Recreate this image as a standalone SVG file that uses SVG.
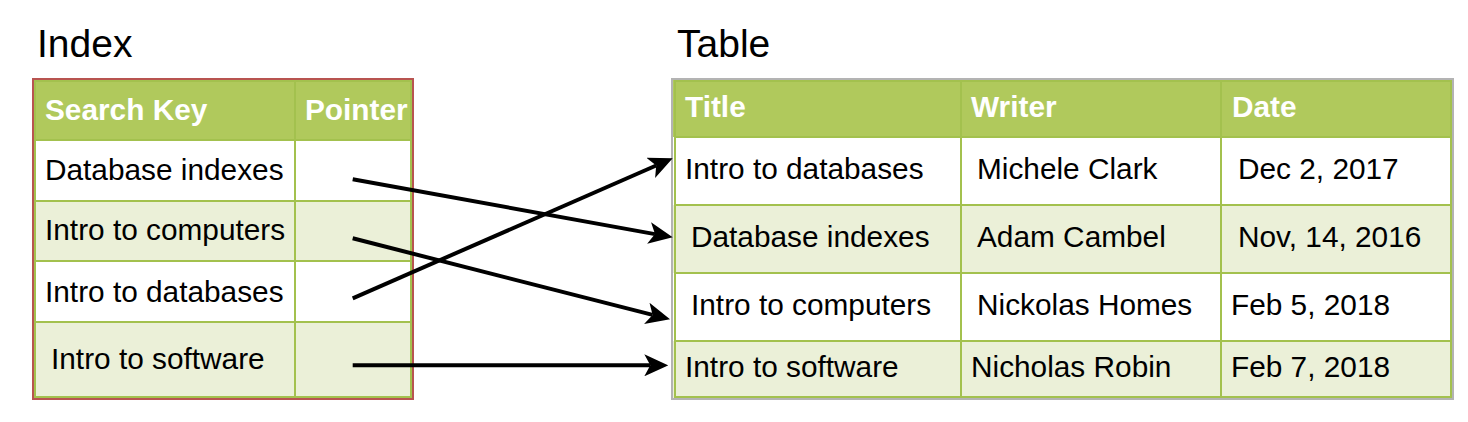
<svg xmlns="http://www.w3.org/2000/svg" width="1468" height="422" viewBox="0 0 1468 422">
<style>
text{font-family:"Liberation Sans",Arial,Helvetica,sans-serif;font-size:29.8px;fill:#000}
.title{font-size:39px}
.hd{font-weight:bold;fill:#fff}
.hfill{fill:#B0C95C}
.light{fill:#EBF0D8}
.white{fill:#fff}
.grid{stroke:#A3C14E;stroke-width:2;fill:none}
.conn{stroke:#000;stroke-width:4;fill:none;marker-end:url(#arr)}
</style>
<defs>
<marker id="arr" markerUnits="userSpaceOnUse" viewBox="0 0 24 22" markerWidth="24" markerHeight="22" refX="6" refY="11" orient="auto">
<path d="M0,0 L24,11 L0,22 L6,11 z" fill="#000"/>
</marker>
</defs>
<rect width="1468" height="422" fill="#fff"/>

<g id="index-table">
<text class="title" x="37" y="57">Index</text>
<rect class="hfill" x="33" y="79" width="380" height="61"/>
<rect class="white" x="33" y="140" width="380" height="61"/>
<rect class="light" x="33" y="201" width="380" height="60"/>
<rect class="white" x="33" y="261" width="380" height="61"/>
<rect class="light" x="33" y="322" width="380" height="77"/>
<path class="grid" d="M35,140H411M35,201H411M35,261H411M35,322H411M295,81V397M35,81H411V397H35Z"/>
<rect x="33" y="79" width="380" height="320" fill="none" stroke="#B85450" stroke-width="2"/>
<text class="hd" x="45" y="120">Search Key</text>
<text class="hd" x="305" y="120">Pointer</text>
<text x="45" y="180">Database indexes</text>
<text x="45" y="240">Intro to computers</text>
<text x="45" y="302">Intro to databases</text>
<text x="51" y="369">Intro to software</text>
</g>

<g id="data-table">
<text class="title" x="677" y="57">Table</text>
<rect class="hfill" x="673" y="80" width="779" height="57"/>
<rect class="white" x="673" y="137" width="779" height="68"/>
<rect class="light" x="673" y="205" width="779" height="68"/>
<rect class="white" x="673" y="273" width="779" height="68"/>
<rect class="light" x="673" y="341" width="779" height="57"/>
<path class="grid" d="M675,137H1451M675,205H1451M675,273H1451M675,341H1451M961,81V397M1221,81V397M675,81H1451V397H675Z"/>
<rect x="672" y="79" width="781" height="320" fill="none" stroke="#B3B3B3" stroke-width="2"/>
<text class="hd" x="685" y="117">Title</text>
<text class="hd" x="971" y="117">Writer</text>
<text class="hd" x="1232" y="117">Date</text>
<text x="685" y="179">Intro to databases</text>
<text x="977" y="179">Michele Clark</text>
<text x="1238" y="179">Dec 2, 2017</text>
<text x="691" y="247">Database indexes</text>
<text x="977" y="247">Adam Cambel</text>
<text x="1238" y="247">Nov, 14, 2016</text>
<text x="691" y="315">Intro to computers</text>
<text x="977" y="315">Nickolas Homes</text>
<text x="1231" y="315">Feb 5, 2018</text>
<text x="685" y="377">Intro to software</text>
<text x="971" y="377">Nicholas Robin</text>
<text x="1231" y="377">Feb 7, 2018</text>
</g>

<g id="connectors">
<path class="conn" d="M352.7,179.3L655,234.1"/>
<path class="conn" d="M352.7,238.3L652.6,314.9"/>
<path class="conn" d="M352.7,298.3L656.2,165.5"/>
<path class="conn" d="M352.7,365.3L650.3,365.3"/>
</g>
</svg>
